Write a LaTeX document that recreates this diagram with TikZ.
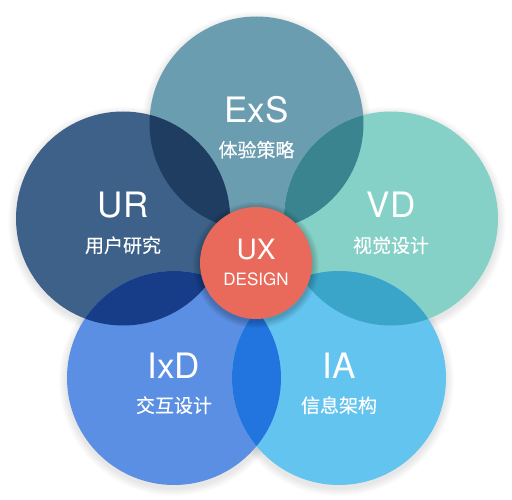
\documentclass[tikz,border=0pt]{standalone}
\usepackage{fontspec}
\setmainfont{TeX Gyre Heros}
\newfontfamily\cjk[FakeBold=0.3]{Noto Sans CJK SC}
\definecolor{cexs}{HTML}{6A9DB0}
\definecolor{cur}{HTML}{3D6189}
\definecolor{cvd}{HTML}{86D1C7}
\definecolor{cixd}{HTML}{5B8FE3}
\definecolor{cia}{HTML}{63C4EF}
\definecolor{cux}{HTML}{E9695A}
\definecolor{ourexs}{HTML}{1E3D60}
\definecolor{oexsvd}{HTML}{3A8490}
\definecolor{ourixd}{HTML}{173D88}
\definecolor{ovdia}{HTML}{3AA5C8}
\definecolor{oixdia}{HTML}{2274DF}
\tikzset{
  petal/.style={circle, inner sep=0pt, minimum size=214pt},
  big/.style={text=white, font=\fontsize{35}{38}\selectfont, anchor=base},
  sub/.style={text=white, font=\cjk\fontsize{19}{21}\selectfont, anchor=base},
}
\begin{document}
\begin{tikzpicture}[x=1pt,y=-1pt]
\fill[white] (0,0) rectangle (512,500);
\useasboundingbox (0,0) rectangle (512,500);
\coordinate (cE) at (256.5,123.5);
\coordinate (cU) at (123,218.5);
\coordinate (cV) at (391,218.5);
\coordinate (cI) at (174,378);
\coordinate (cA) at (339,378);
\coordinate (cX) at (256,263);
% soft shadows
\foreach \p in {cE,cU,cV,cI,cA}{
  \foreach \i in {1,...,8}{
    \fill[black, opacity=0.012] ([yshift=-3pt]\p) circle[radius=107pt+\i pt];
  }
}
\node[petal, fill=cexs] (exs) at (cE) {};
\node[petal, fill=cur] (ur) at (cU) {};
\node[petal, fill=cvd] (vd) at (cV) {};
\node[petal, fill=cixd] (ixd) at (cI) {};
\node[petal, fill=cia] (ia) at (cA) {};
% overlaps
\begin{scope}\clip (cE) circle[radius=107pt]; \fill[ourexs] (cU) circle[radius=107pt];\end{scope}
\begin{scope}\clip (cE) circle[radius=107pt]; \fill[oexsvd] (cV) circle[radius=107pt];\end{scope}
\begin{scope}\clip (cU) circle[radius=107pt]; \fill[ourixd] (cI) circle[radius=107pt];\end{scope}
\begin{scope}\clip (cV) circle[radius=107pt]; \fill[ovdia] (cA) circle[radius=107pt];\end{scope}
\begin{scope}\clip (cI) circle[radius=107pt]; \fill[oixdia] (cA) circle[radius=107pt];\end{scope}
% center shadow
\foreach \i in {1,...,7}{
  \fill[black, opacity=0.03] ([yshift=-2pt]cX) circle[radius=56pt+\i pt];
}
\node[circle, inner sep=0pt, minimum size=112pt, fill=cux] (ux) at (cX) {};
% labels
\node[big] (texs) at (256.5,123) {ExS};
\node[sub] (sexs) at (256.5,157) {体验策略};
\node[big] (tur) at (123,218) {UR};
\node[sub] (sur) at (123,252.5) {用户研究};
\node[big] (tvd) at (391,218) {VD};
\node[sub] (svd) at (391,252.5) {视觉设计};
\node[big] (tixd) at (174,378) {IxD};
\node[sub] (sixd) at (174,412.5) {交互设计};
\node[big] (tia) at (339,378) {IA};
\node[sub] (sia) at (339,412.5) {信息架构};
\node[text=white, font=\fontsize{28}{30}\selectfont, anchor=base] (tux) at (256,260) {UX};
\node[text=white, font=\fontsize{17}{19}\selectfont, anchor=base] (tdes) at (256,285) {DESIGN};
\end{tikzpicture}
\end{document}
